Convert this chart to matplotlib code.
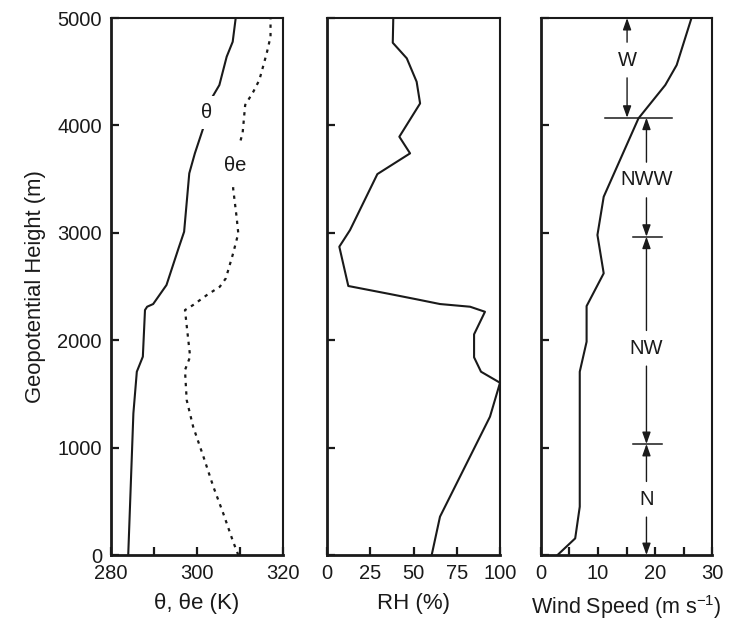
import numpy as np
import matplotlib
matplotlib.use('Agg')
import matplotlib.pyplot as plt

plt.rcParams['font.family'] = ['Liberation Sans', 'DejaVu Sans']
plt.rcParams['mathtext.fontset'] = 'custom'
plt.rcParams['mathtext.rm'] = 'Liberation Sans'
plt.rcParams['mathtext.default'] = 'regular'

# perfil de temperatura potencial
theta_h = [0, 1319, 1707, 1847, 2281, 2312, 2337, 2514, 2856, 3010, 3554, 3740,
           3994, 4267, 4376, 4640, 4779, 5000]
theta = [284.0, 285.2, 286.0, 287.4, 287.9, 288.4, 289.8, 292.9, 295.7, 297.0,
         298.2, 299.5, 301.6, 303.6, 305.2, 306.9, 308.3, 309.0]

theta_e_h = [0, 124, 388, 636, 915, 1195, 1443, 1722, 1847, 2281, 2328, 2421,
             2498, 2576, 2809, 2995, 3150, 3414, 3787, 3926, 4190, 4314, 4423,
             4670, 4826, 5000]
theta_e = [309.6, 308.4, 306.1, 303.8, 301.5, 299.1, 297.6, 297.2, 298.4, 297.2,
           299.1, 302.3, 305.3, 306.7, 308.4, 309.6, 309.2, 308.4, 309.6, 310.6,
           311.2, 313.1, 314.5, 316.2, 317.1, 317.1]

# humedad relativa
rh_h = [0, 357, 1288, 1604, 1707, 1841, 2055, 2265, 2312, 2337, 2381, 2430, 2505,
        2871, 3026, 3547, 3740, 3895, 4205, 4407, 4625, 4770, 5000]
rh = [60.5, 65.3, 94.2, 100, 89.0, 85.0, 85.0, 91.3, 82.7, 65.3, 51.8, 36.4, 12.3,
      7.1, 13.3, 29.1, 48.0, 41.8, 53.8, 51.8, 46.1, 38.0, 38.3]

# velocidad del viento
ws_h = [0, 155, 450, 1707, 1986, 2318, 2623, 2980, 3336, 4066, 4376, 4562, 5000]
ws = [2.9, 6.0, 6.8, 6.8, 8.0, 8.0, 11.0, 9.9, 11.0, 17.1, 21.8, 23.8, 26.4]

# capas de direccion del viento
wind_dirs = ['W', 'NWW', 'NW', 'N']
layer_bounds = [5000, 4072, 2964, 1034, 0]
layer_label_h = [4609, 3492, 1925, 519]
layer_arrow_x = [15.1, 18.5, 18.5, 18.5]
bound_lines = [(4072, 11.2, 22.9), (2964, 16.2, 21.2), (1034, 16.2, 21.2)]

ink = '#1a1a1a'
fig = plt.figure(figsize=(7.29, 6.2), dpi=100)
bottom, height = 0.1048, 0.8661
ax1 = fig.add_axes([0.1523, bottom, 0.2359, height])
ax2 = fig.add_axes([0.4486, bottom, 0.2373, height])
ax3 = fig.add_axes([0.7421, bottom, 0.2346, height])

for ax in (ax1, ax2, ax3):
    ax.set_ylim(0, 5000)
    ax.set_yticks([0, 1000, 2000, 3000, 4000, 5000])
    ax.tick_params(direction='in', length=6, width=1.6, labelsize=14.5, pad=6.5,
                   colors=ink, top=False, right=False)
    for s in ax.spines.values():
        s.set_linewidth(1.5)
        s.set_color(ink)
    ax.spines['left'].set_linewidth(2)
    ax.spines['bottom'].set_linewidth(2)

ax2.set_yticklabels([])
ax3.set_yticklabels([])

lw = 1.5
ax1.plot(theta, theta_h, color=ink, lw=lw)
ax1.plot(theta_e, theta_e_h, color=ink, lw=1.6, linestyle=(0, (1.5, 2.3)))
ax1.text(302.3, 4118, 'θ', fontsize=14.5, ha='center', va='center', color=ink,
         bbox=dict(boxstyle='square,pad=0.35', fc='white', ec='none'), zorder=5)
ax1.text(308.8, 3631, 'θe', fontsize=14.5, ha='center', va='center', color=ink,
         bbox=dict(boxstyle='square,pad=0.55', fc='white', ec='none'), zorder=5)
ax1.set_xlim(280, 320)
ax1.set_xticks([280, 290, 300, 310, 320])
ax1.set_xticklabels(['280', '', '300', '', '320'])
ax1.set_xlabel('θ, θe (K)', fontsize=16, labelpad=7, color=ink)
ax1.set_ylabel('Geopotential Height (m)', fontsize=15.8, labelpad=8, color=ink)

ax2.plot(rh, rh_h, color=ink, lw=lw, clip_on=False)
ax2.set_xlim(0, 100)
ax2.set_xticks([0, 25, 50, 75, 100])
ax2.set_xlabel('RH (%)', fontsize=16, labelpad=7, color=ink)

ax3.plot(ws, ws_h, color=ink, lw=lw)
ax3.set_xlim(0, 30)
ax3.set_xticks([0, 5, 10, 15, 20, 25, 30])
ax3.set_xticklabels(['0', '', '10', '', '20', '', '30'])
ax3.set_xlabel('Wind Speed (m s$^{-1}$)', fontsize=15.5, labelpad=7, color=ink)

for hb, x0, x1 in bound_lines:
    ax3.plot([x0, x1], [hb, hb], color=ink, lw=1.1)

aprops = dict(arrowstyle='-|>,head_length=0.7,head_width=0.25', color=ink,
              lw=1.0, shrinkA=4, shrinkB=0, mutation_scale=10)
for i, name in enumerate(wind_dirs):
    x = layer_arrow_x[i]
    ym = layer_label_h[i]
    ax3.annotate(name, xy=(x, layer_bounds[i]), xytext=(x, ym), ha='center',
                 va='center', fontsize=14.5, color=ink, arrowprops=aprops,
                 annotation_clip=False)
    ax3.annotate(name, xy=(x, layer_bounds[i + 1]), xytext=(x, ym), ha='center',
                 va='center', fontsize=14.5, color='none', arrowprops=aprops,
                 annotation_clip=False)

fig.savefig('out.png', dpi=100)
